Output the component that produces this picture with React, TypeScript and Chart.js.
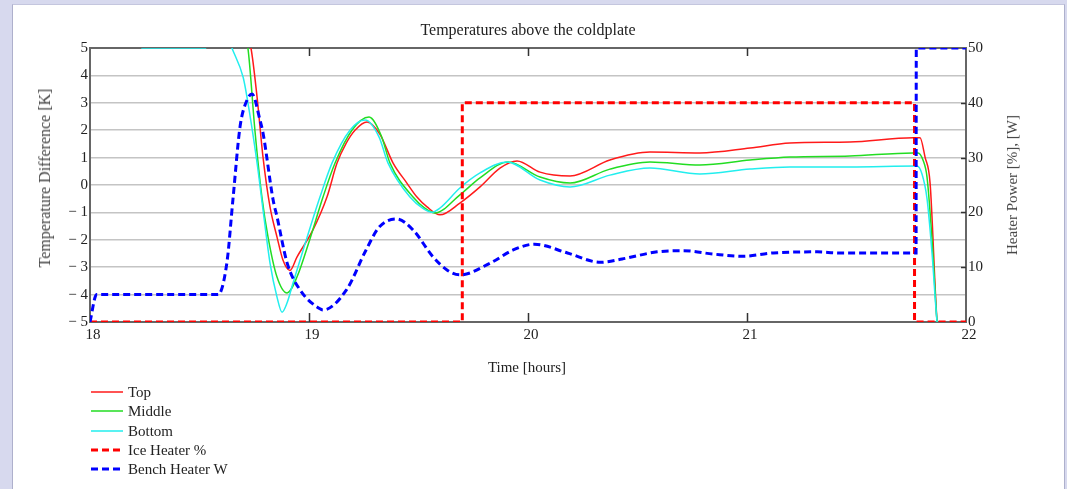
import React, { useEffect, useRef } from "react";
import { Chart, registerables } from "chart.js";

Chart.register(...registerables);

const FONT = "'Liberation Serif', 'Times New Roman', serif";

// ---- data ----
const titleText = "Temperatures above the coldplate";
const xTitle = "Time [hours]";
const yLeftTitle = "Temperature Difference [K]";
const yRightTitle = "Heater Power [%], [W]";

const xMajor = [19, 20, 21];
const rightMajor = [10, 20, 30, 40];

const topT = [18, 18.6, 18.735, 18.763, 18.79, 18.822, 18.854, 18.881, 18.913, 18.945, 19.018, 19.082, 19.128, 19.17, 19.21, 19.265, 19.324, 19.384, 19.447, 19.493, 19.539, 19.598, 19.689, 19.781, 19.872, 19.95, 20.055, 20.192, 20.374, 20.557, 20.785, 21.014, 21.196, 21.47, 21.758, 21.79, 21.813, 21.836, 21.868, 21.95];
const topV = [8, 8, 5, 3.2, 1.02, -0.8, -1.9, -2.74, -3.12, -2.63, -1.64, -0.44, 0.8, 1.53, 2.0, 2.3, 1.85, 0.8, 0.07, -0.44, -0.8, -1.09, -0.66, -0.07, 0.62, 0.88, 0.47, 0.33, 0.91, 1.2, 1.17, 1.35, 1.53, 1.57, 1.72, 1.72, 1.02, 0.07, -5, -9];

const midT = [18, 18.6, 18.721, 18.753, 18.785, 18.813, 18.854, 18.9, 18.945, 19.005, 19.064, 19.119, 19.196, 19.274, 19.33, 19.37, 19.475, 19.53, 19.575, 19.689, 19.781, 19.909, 20.055, 20.192, 20.374, 20.557, 20.785, 21.014, 21.196, 21.47, 21.758, 21.781, 21.804, 21.822, 21.845, 21.868, 21.95];
const midV = [8, 8, 5, 2.0, -0.44, -1.9, -3.36, -3.94, -3.36, -1.95, -0.44, 0.8, 2.0, 2.48, 1.8, 0.8, -0.44, -0.85, -1.02, -0.36, 0.26, 0.84, 0.29, 0.07, 0.58, 0.84, 0.73, 0.91, 1.02, 1.06, 1.17, 1.17, 0.9, 0.29, -2, -5, -9];

const botT = [18, 18.228, 18.235, 18.53, 18.535, 18.62, 18.648, 18.699, 18.717, 18.763, 18.79, 18.822, 18.854, 18.877, 18.9, 18.927, 18.98, 19.05, 19.105, 19.187, 19.256, 19.32, 19.361, 19.461, 19.52, 19.562, 19.598, 19.689, 19.781, 19.904, 20.055, 20.192, 20.374, 20.557, 20.785, 21.014, 21.196, 21.47, 21.776, 21.799, 21.822, 21.845, 21.868, 21.95];
const botV = [7, 7, 5, 5, 7, 5.6, 5, 3.94, 3.2, 0.8, -0.9, -2.85, -4.09, -4.64, -4.3, -3.58, -2.2, -0.44, 0.8, 2.0, 2.37, 1.75, 0.8, -0.44, -0.85, -0.99, -0.84, -0.11, 0.44, 0.84, 0.18, -0.07, 0.36, 0.62, 0.4, 0.58, 0.66, 0.66, 0.69, 0.4, -0.5, -2.5, -5, -9];

const iceT = [18, 19.7, 19.7, 21.765, 21.765, 22];
const iceV = [0, 0, 40, 40, 0, 0];

const benchT = [18, 18.03, 18.585, 18.625, 18.653, 18.685, 18.717, 18.74, 18.776, 18.79, 18.836, 18.854, 18.9, 18.96, 19.05, 19.064, 19.17, 19.26, 19.32, 19.4, 19.475, 19.566, 19.63, 19.69, 19.83, 19.93, 20.03, 20.18, 20.33, 20.43, 20.59, 20.71, 20.845, 20.98, 21.12, 21.32, 21.42, 21.772, 21.773, 22];
const benchV = [0, 5, 5, 10.8, 22.5, 35.6, 40.5, 41.6, 36.9, 34.5, 22.3, 19.2, 10.8, 5.8, 2.4, 2.2, 5.8, 13.1, 17.3, 18.8, 16.8, 11.9, 9.5, 8.6, 10.8, 13.1, 14.2, 12.6, 10.9, 11.5, 12.8, 13.0, 12.4, 12.0, 12.6, 12.8, 12.6, 12.6, 50, 50];

const RED = "#ff1a1a";
const GREEN = "#22dd22";
const CYAN = "#22eeee";
const BLUE = "#0000ff";

const legendItems = [
  { label: "Top", color: RED, dashed: false },
  { label: "Middle", color: GREEN, dashed: false },
  { label: "Bottom", color: CYAN, dashed: false },
  { label: "Ice Heater %", color: "#ff0000", dashed: true },
  { label: "Bench Heater W", color: BLUE, dashed: true },
];

const pts = (t: number[], v: number[]) => t.map((x, i) => ({ x, y: v[i] }));

const framePlugin = {
  id: "frame",
  beforeDatasetsDraw(chart: any) {
    const { ctx, chartArea: a, scales } = chart;
    ctx.save();
    ctx.strokeStyle = "#666666";
    ctx.lineWidth = 2;
    ctx.strokeRect(a.left, a.top, a.right - a.left, a.bottom - a.top);
    ctx.strokeStyle = "#333333";
    ctx.lineWidth = 1.5;
    ctx.beginPath();
    for (const v of xMajor) {
      const px = Math.round(scales.x.getPixelForValue(v)) + 0.5;
      ctx.moveTo(px, a.bottom);
      ctx.lineTo(px, a.bottom - 9);
      ctx.moveTo(px, a.top);
      ctx.lineTo(px, a.top + 8);
    }
    for (const v of rightMajor) {
      const py = Math.round(scales.y1.getPixelForValue(v)) + 0.5;
      ctx.moveTo(a.right, py);
      ctx.lineTo(a.right - 5, py);
    }
    ctx.stroke();
    ctx.restore();
  },
};

function ChartView() {
  const ref = useRef<HTMLCanvasElement | null>(null);
  useEffect(() => {
    if (!ref.current) return;
    const tickFont = { family: FONT, size: 15 };
    const chart = new Chart(ref.current, {
      type: "line",
      data: {
        datasets: [
          { label: "Top", data: pts(topT, topV), borderColor: RED, borderWidth: 1.5, yAxisID: "y", cubicInterpolationMode: "monotone", pointRadius: 0, order: 5 },
          { label: "Middle", data: pts(midT, midV), borderColor: GREEN, borderWidth: 1.5, yAxisID: "y", cubicInterpolationMode: "monotone", pointRadius: 0, order: 4 },
          { label: "Bottom", data: pts(botT, botV), borderColor: CYAN, borderWidth: 1.5, yAxisID: "y", cubicInterpolationMode: "monotone", pointRadius: 0, order: 3 },
          { label: "Ice Heater %", data: pts(iceT, iceV), borderColor: "#ff0000", borderWidth: 3, borderDash: [7, 4], yAxisID: "y1", tension: 0, pointRadius: 0, order: 2 },
          { label: "Bench Heater W", data: pts(benchT, benchV), borderColor: BLUE, borderWidth: 3, borderDash: [7, 4], yAxisID: "y1", cubicInterpolationMode: "monotone", pointRadius: 0, order: 1 },
        ] as any,
      },
      options: {
        animation: false,
        responsive: false,
        devicePixelRatio: 1,
        parsing: false as any,
        normalized: true,
        layout: { padding: { top: 48, left: 0, right: 0, bottom: 0 } },
        plugins: { legend: { display: false }, tooltip: { enabled: false }, title: { display: false } },
        scales: {
          x: {
            type: "linear",
            min: 18,
            max: 22,
            position: "bottom",
            grid: { display: false, drawTicks: false },
            border: { display: false },
            ticks: { stepSize: 1, font: tickFont, color: "#222", padding: 4, labelOffset: 3, maxRotation: 0, autoSkip: false },
            afterFit: (s: any) => { s.height = 167; },
          },
          y: {
            type: "linear",
            position: "left",
            min: -5,
            max: 5,
            grid: { color: "#c4c4c4", lineWidth: 1.5, drawTicks: false },
            border: { display: false },
            ticks: {
              stepSize: 1,
              font: tickFont,
              color: "#222",
              padding: 2,
              autoSkip: false,
              callback: (v: any) => (v < 0 ? "\u2212 " + Math.abs(v) : String(v)),
            },
            afterFit: (s: any) => { s.width = 90; },
          },
          y1: {
            type: "linear",
            position: "right",
            min: 0,
            max: 50,
            grid: { display: false, drawTicks: false },
            border: { display: false },
            ticks: { stepSize: 10, font: tickFont, color: "#222", padding: 2, autoSkip: false },
            afterFit: (s: any) => { s.width = 101; },
          },
        },
      } as any,
      plugins: [framePlugin],
    });
    return () => chart.destroy();
  }, []);
  return <canvas ref={ref} width={1067} height={489} style={{ position: "absolute", left: 0, top: 0, width: 1067, height: 489 }} />;
}

export default function App() {
  const text = { position: "absolute" as const, fontFamily: FONT, color: "#222", whiteSpace: "nowrap" as const, lineHeight: "18px" };
  return (
    <div style={{ position: "fixed", left: 0, top: 0, width: 1067, height: 489, background: "#d7d9ee", overflow: "hidden" }}>
      <div style={{ position: "absolute", left: 12, top: 4, width: 1051, height: 520, background: "#ffffff", borderLeft: "1px solid #aeb0cc", borderTop: "1px solid #c4c6de", borderRight: "1px solid #aeb0cc" }} />
      <ChartView />
      <div style={{ ...text, left: 528, top: 30, fontSize: 16, transform: "translate(-50%, -50%)" }}>{titleText}</div>
      <div style={{ ...text, left: 527, top: 367, fontSize: 15, transform: "translate(-50%, -50%)" }}>{xTitle}</div>
      <div style={{ ...text, left: 45, top: 178, fontSize: 16, color: "#444", transform: "translate(-50%, -50%) rotate(-90deg)" }}>{yLeftTitle}</div>
      <div style={{ ...text, left: 1012, top: 185, fontSize: 15, color: "#444", transform: "translate(-50%, -50%) rotate(-90deg)" }}>{yRightTitle}</div>
      {legendItems.map((it, i) => {
        const cy = 392 + i * 19.25;
        return (
          <React.Fragment key={it.label}>
            <svg style={{ position: "absolute", left: 90, top: cy - 3 }} width={34} height={6}>
              <line x1={1} y1={3} x2={33} y2={3} stroke={it.color} strokeWidth={it.dashed ? 3 : 1.5} strokeDasharray={it.dashed ? "7 4" : undefined} />
            </svg>
            <div style={{ ...text, left: 128, top: cy - 9, fontSize: 15 }}>{it.label}</div>
          </React.Fragment>
        );
      })}
    </div>
  );
}
